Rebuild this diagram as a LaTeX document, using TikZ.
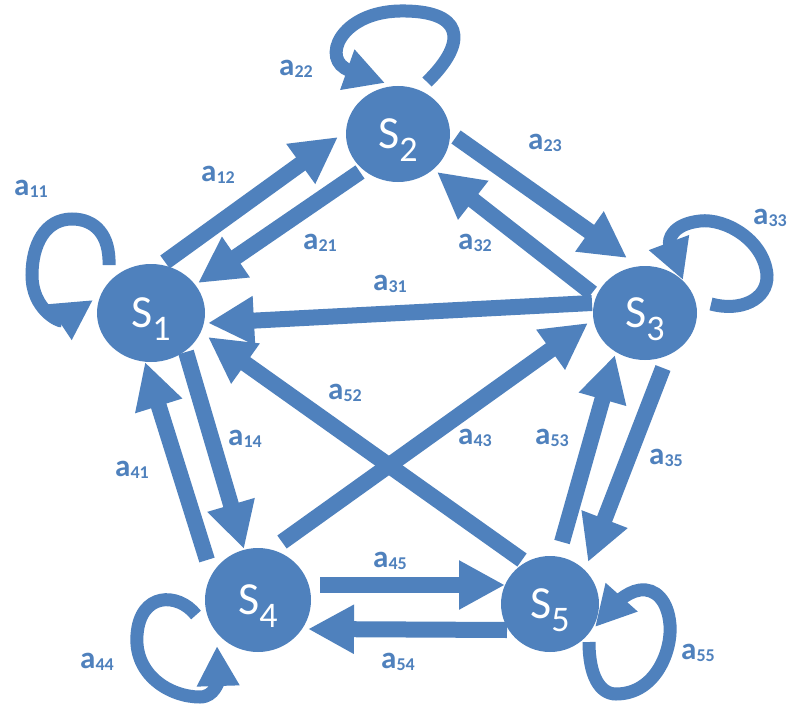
\documentclass[tikz,border=0pt]{standalone}
\usepackage{fontspec}
\setmainfont{Carlito}
\usetikzlibrary{arrows.meta,shapes.geometric,calc}
\definecolor{stblue}{RGB}{79,129,189}
% state name: large S with a lowered index
\newcommand{\stname}[1]{{\fontsize{46}{46}\selectfont S}\smash{\raisebox{-13pt}{\fontsize{36}{36}\selectfont #1}}}
% transition label a_ij
\newcommand{\trname}[1]{{\fontsize{31}{31}\selectfont a}\raisebox{-1.5pt}{\fontsize{18}{18}\selectfont #1}}

\begin{document}
\begin{tikzpicture}[x=1pt,y=1pt,
  stnode/.style={ellipse, fill=stblue, text=white, inner sep=0pt},
  arr/.style={draw=stblue, line width=16pt, -{Triangle[length=46pt,width=46pt]}},
  selfarr/.style={draw=stblue, line width=13pt, -{Triangle[length=40pt,width=40pt]}},
  lbl/.style={text=stblue, font=\bfseries, inner sep=0pt}]

\fill[white] (0,0) rectangle (789,-706);
\useasboundingbox (0,0) rectangle (789,-706);

% states
\node[stnode, minimum width=108pt, minimum height=98pt]  (S1) at (151,-313) {\stname{1}};
\node[stnode, minimum width=104pt, minimum height=96pt]  (S2) at (398,-134) {\stname{2}};
\node[stnode, minimum width=104pt, minimum height=94pt]  (S3) at (645,-313) {\stname{3}};
\node[stnode, minimum width=106pt, minimum height=104pt] (S4) at (258,-600) {\stname{4}};
\node[stnode, minimum width=98pt,  minimum height=96pt]  (S5) at (550,-604) {\stname{5}};

% transitions between states
\draw[arr] ($(S1)+(14,51)$)   -- ($(S2)+(-60,-3)$);  % a12
\draw[arr] ($(S2)+(-38,-38)$) -- ($(S1)+(47,30)$);   % a21
\draw[arr] ($(S2)+(58,-3)$)   -- ($(S3)+(-18,55)$);  % a23
\draw[arr] ($(S3)+(-53,20)$)  -- ($(S2)+(39,-38)$);  % a32
\draw[arr] ($(S3)+(-53,10)$)  -- ($(S1)+(57,-10)$);  % a31
\draw[arr] ($(S1)+(35,-39)$)  -- ($(S4)+(-14,51)$);  % a14
\draw[arr] ($(S4)+(-51,40)$)  -- ($(S1)+(-6,-49)$);  % a41
\draw[arr] ($(S5)+(12,62)$)   -- ($(S3)+(-30,-42)$); % a53
\draw[arr] ($(S3)+(18,-55)$)  -- ($(S5)+(38,42)$);   % a35
\draw[arr] ($(S4)+(62,15)$)   -- ($(S5)+(-45,19)$);  % a45
\draw[arr] ($(S5)+(-43,-26)$) -- ($(S4)+(50,-29)$);  % a54
\draw[arr] ($(S4)+(24,58)$)   -- ($(S3)+(-57,-10)$); % a43
\draw[arr] ($(S5)+(-28,44)$)  -- ($(S1)+(57,-24)$);  % a52

% self transitions
\begin{scope}[shift={(S1.center)}]
\draw[selfarr] (-42,48) .. controls (-41,78) and (-56,94) .. (-79,94)
  .. controls (-106,94) and (-119,68) .. (-119,38)
  .. controls (-119,3) and (-91,-9) .. (-58,13);
\end{scope}
\begin{scope}[shift={(S2.center)}]
\draw[selfarr] (29,52) .. controls (72,94) and (64,124) .. (2,123)
  .. controls (-58,122) and (-78,74) .. (-13,51);
\end{scope}
\begin{scope}[shift={(S3.center)}]
\draw[selfarr] (66,9) .. controls (95,1) and (123,13) .. (122,38)
  .. controls (119,73) and (80,95) .. (55,92)
  .. controls (27,89) and (23,73) .. (38,33);
\end{scope}
\begin{scope}[shift={(S4.center)}]
\draw[selfarr] (-62,-15) .. controls (-80,8) and (-118,8) .. (-121,-35)
  .. controls (-124,-75) and (-88,-97) .. (-58,-97)
  .. controls (-43,-97) and (-40,-80) .. (-41,-46);
\end{scope}
\begin{scope}[shift={(S5.center)}]
\draw[selfarr] (39,-38) .. controls (39,-72) and (50,-90) .. (66,-90)
  .. controls (106,-90) and (122,-46) .. (120,-21)
  .. controls (118,4) and (105,16) .. (90,14)
  .. controls (75,12) and (62,-4) .. (45,-23);
\end{scope}

% labels
\node[lbl] (l11) at (31,-189)  {\trname{11}};
\node[lbl] (l22) at (296,-69)  {\trname{22}};
\node[lbl] (l33) at (770,-218) {\trname{33}};
\node[lbl] (l44) at (97,-662)  {\trname{44}};
\node[lbl] (l55) at (698,-653) {\trname{55}};
\node[lbl] (l12) at (218,-175) {\trname{12}};
\node[lbl] (l21) at (320,-243) {\trname{21}};
\node[lbl] (l23) at (545,-143) {\trname{23}};
\node[lbl] (l32) at (475,-243) {\trname{32}};
\node[lbl] (l31) at (390,-284) {\trname{31}};
\node[lbl] (l52) at (345,-393) {\trname{52}};
\node[lbl] (l14) at (245,-439) {\trname{14}};
\node[lbl] (l41) at (132,-470) {\trname{41}};
\node[lbl] (l43) at (475,-438) {\trname{43}};
\node[lbl] (l53) at (552,-438) {\trname{53}};
\node[lbl] (l35) at (666,-458) {\trname{35}};
\node[lbl] (l45) at (390,-561) {\trname{45}};
\node[lbl] (l54) at (398,-662) {\trname{54}};
\end{tikzpicture}
\end{document}
